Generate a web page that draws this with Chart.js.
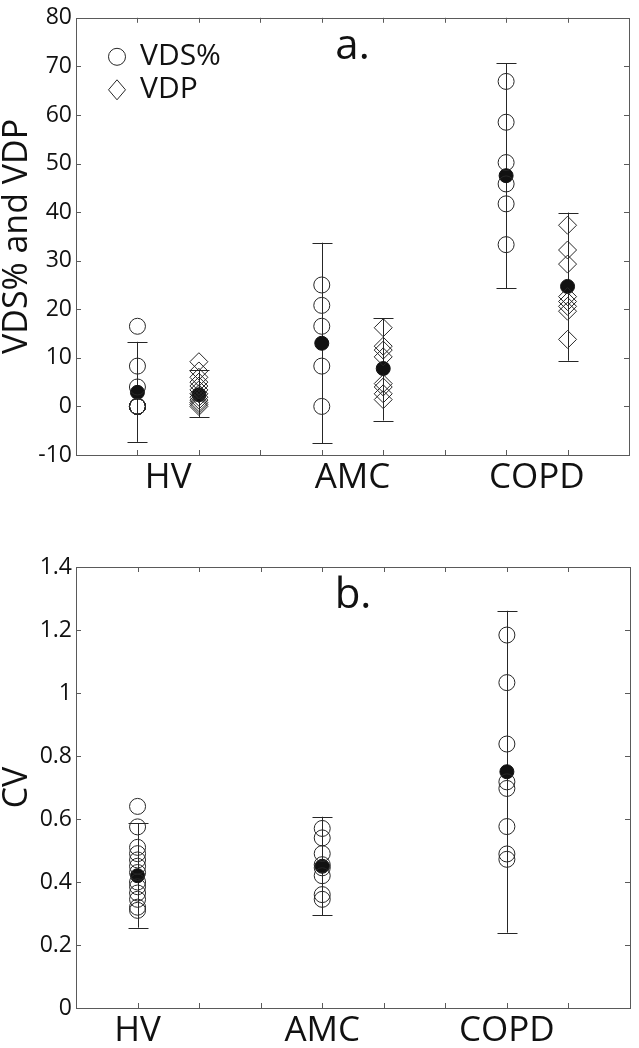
<!DOCTYPE html>
<html>
<head>
<meta charset="utf-8">
<script src="https://cdn.jsdelivr.net/npm/chart.js@4.4.1/dist/chart.umd.min.js"></script>
<style>
  html, body { margin: 0; padding: 0; background: #fff; }
  #wrap { position: relative; width: 639px; height: 1048px; overflow: hidden; }
  canvas { position: absolute; left: 0; }
  #chartA { top: 0; }
  #chartB { top: 540px; }
</style>
</head>
<body>
<div id="wrap">
  <canvas id="chartA" width="639" height="520"></canvas>
  <canvas id="chartB" width="639" height="508"></canvas>
</div>
<script>
// ---- data ----
const groups = ['HV', 'AMC', 'COPD'];

// panel a: individual subjects
const vdsHV = [16.5, 8.3, 4.0, 0, 0, 0, 0, 0, 0, 0];
const vdsAMC = [25.0, 20.8, 16.5, 8.3, 0];
const vdsCOPD = [66.9, 58.5, 50.2, 45.8, 41.7, 33.3];
const vdpHV = [9.2, 7.3, 6.0, 5.0, 4.2, 3.4, 2.6, 1.9, 1.3, 0.8, 0.4, 0];
const vdpAMC = [16.2, 12.4, 11.6, 10.2, 4.7, 4.0, 2.6, 1.4];
const vdpCOPD = [37.3, 32.2, 29.3, 22.6, 21.6, 20.6, 19.6, 13.8];

// panel a: group mean and +/- SD
const vdsMean = [2.9, 13.0, 47.5];
const vdsLow = [-7.3, -7.6, 24.3];
const vdsHigh = [13.3, 33.7, 70.6];
const vdpMean = [2.4, 7.8, 24.7];
const vdpLow = [-2.2, -2.9, 9.4];
const vdpHigh = [7.5, 18.2, 39.9];

// panel b: individual CV
const cvHV = [0.64, 0.575, 0.51, 0.49, 0.47, 0.45, 0.43, 0.40, 0.385, 0.365, 0.345, 0.32, 0.31];
const cvAMC = [0.57, 0.54, 0.49, 0.455, 0.445, 0.42, 0.36, 0.345];
const cvCOPD = [1.184, 1.033, 0.838, 0.718, 0.697, 0.576, 0.489, 0.472];
const cvMean = [0.42, 0.45, 0.75];
const cvLow = [0.255, 0.295, 0.239];
const cvHigh = [0.587, 0.607, 1.261];

// tick labels
const yTicksA = [-10, 0, 10, 20, 30, 40, 50, 60, 70, 80];
const yTicksB = [0, 0.2, 0.4, 0.6, 0.8, 1, 1.2, 1.4];
const yLabelsB = ['0', '0.2', '0.4', '0.6', '0.8', '1', '1.2', '1.4'];

// x placement on a 0..9 axis
const vdsPos = [1, 4, 7];
const vdpPos = [2, 5, 8];
const labelPosA = [1.5, 4.5, 7.5];
const labelPosB = [1, 4, 7];
const xTickVals = [1, 2, 3, 4, 5, 6, 7, 8];

// ---- helpers ----
Chart.defaults.font.family = '"Open Sans", "Liberation Sans", sans-serif';
Chart.defaults.color = '#111';

const INK = '#262626';
const AXIS = '#5a5a5a';

function toPoints(pos, lists) {
  const out = [];
  lists.forEach((vals, i) => vals.forEach(v => out.push({ x: pos[i], y: v })));
  return out;
}
function meanPoints(pos, means) {
  return means.map((v, i) => ({ x: pos[i], y: v }));
}

function hollow(data, style, radius) {
  return {
    data: data,
    pointStyle: style,
    pointRadius: radius,
    pointBorderWidth: 1,
    pointBorderColor: INK,
    pointBackgroundColor: 'rgba(0,0,0,0)',
    showLine: false
  };
}
function filled(data) {
  return {
    data: data,
    pointStyle: 'circle',
    pointRadius: 7,
    pointBorderWidth: 1,
    pointBorderColor: '#111',
    pointBackgroundColor: '#111',
    showLine: false
  };
}

// error bars (mean +/- SD) drawn through the chart's scales
const errorBarPlugin = {
  id: 'errorBars',
  beforeDatasetsDraw(chart, args, opts) {
    const { ctx, scales: { x, y } } = chart;
    ctx.save();
    ctx.strokeStyle = INK;
    ctx.lineWidth = 1;
    opts.bars.forEach(bar => {
      bar.pos.forEach((p, i) => {
        const px = Math.round(x.getPixelForValue(p)) + 0.5;
        const y1 = y.getPixelForValue(bar.lo[i]);
        const y2 = y.getPixelForValue(bar.hi[i]);
        ctx.beginPath();
        ctx.moveTo(px, y1); ctx.lineTo(px, y2);
        ctx.moveTo(px - 10, Math.round(y1) + 0.5); ctx.lineTo(px + 10, Math.round(y1) + 0.5);
        ctx.moveTo(px - 10, Math.round(y2) + 0.5); ctx.lineTo(px + 10, Math.round(y2) + 0.5);
        ctx.stroke();
      });
    });
    ctx.restore();
  }
};

// box around the plot with inward ticks
const framePlugin = {
  id: 'frame',
  afterDraw(chart) {
    const { ctx, chartArea: a, scales: { x, y } } = chart;
    ctx.save();
    ctx.strokeStyle = AXIS;
    ctx.lineWidth = 1;
    ctx.strokeRect(Math.round(a.left) + 0.5, Math.round(a.top) + 0.5,
      Math.round(a.right - a.left), Math.round(a.bottom - a.top));
    ctx.beginPath();
    xTickVals.forEach(v => {
      const px = Math.round(x.getPixelForValue(v)) + 0.5;
      ctx.moveTo(px, a.bottom); ctx.lineTo(px, a.bottom - 5);
      ctx.moveTo(px, a.top); ctx.lineTo(px, a.top + 5);
    });
    y.ticks.forEach(t => {
      const py = Math.round(y.getPixelForValue(t.value)) + 0.5;
      ctx.moveTo(a.left, py); ctx.lineTo(a.left + 5, py);
      ctx.moveTo(a.right, py); ctx.lineTo(a.right - 5, py);
    });
    ctx.stroke();
    ctx.restore();
  }
};

// panel letter and in-plot legend
const panelTextPlugin = {
  id: 'panelText',
  afterDraw(chart, args, opts) {
    const { ctx, chartArea: a } = chart;
    ctx.save();
    ctx.fillStyle = '#111';
    ctx.font = '42px "Open Sans"';
    ctx.textAlign = 'center';
    ctx.textBaseline = 'alphabetic';
    ctx.fillText(opts.letter, (a.left + a.right) / 2, a.top + 41);
    if (opts.legend) {
      const lx = a.left + 41;
      ctx.strokeStyle = INK;
      ctx.lineWidth = 1;
      ctx.beginPath();
      ctx.arc(lx, a.top + 39, 8.5, 0, Math.PI * 2);
      ctx.stroke();
      const dy = a.top + 72;
      ctx.beginPath();
      ctx.moveTo(lx, dy - 10); ctx.lineTo(lx + 8.5, dy);
      ctx.lineTo(lx, dy + 10); ctx.lineTo(lx - 8.5, dy); ctx.closePath();
      ctx.stroke();
      ctx.font = '30px "Open Sans"';
      ctx.textAlign = 'left';
      ctx.textBaseline = 'middle';
      opts.legend.forEach((txt, i) => ctx.fillText(txt, lx + 23, a.top + 39 + i * 33));
    }
    ctx.restore();
  }
};

function baseOptions(cfg) {
  return {
    responsive: false,
    animation: false,
    events: [],
    layout: { padding: { top: cfg.padTop, right: 4, left: 0, bottom: 0 } },
    plugins: {
      legend: { display: false },
      tooltip: { enabled: false },
      errorBars: { bars: cfg.bars },
      panelText: { letter: cfg.letter, legend: cfg.legend }
    },
    scales: {
      x: {
        type: 'linear', min: 0, max: 9,
        grid: { display: false, drawTicks: false },
        border: { display: false },
        afterBuildTicks: s => { s.ticks = cfg.labelPos.map(v => ({ value: v })); },
        ticks: {
          callback: (v, i) => groups[i],
          font: { size: 35 }, color: '#111', padding: 2,
          maxRotation: 0, autoSkip: false
        },
        afterFit: s => { s.height = cfg.xHeight; }
      },
      y: {
        type: 'linear', min: cfg.yMin, max: cfg.yMax,
        grid: { display: false, drawTicks: false },
        border: { display: false },
        afterBuildTicks: s => { s.ticks = cfg.yTicks.map(v => ({ value: v })); },
        ticks: { callback: (v, i) => cfg.yLabels[i], font: { size: 23 }, color: '#111', padding: 4, autoSkip: false },
        title: { display: true, text: cfg.yTitle, font: { size: 34, lineHeight: 1 }, color: '#111', padding: 0 },
        afterFit: s => { s.width = 76; }
      }
    }
  };
}

// ---- panel a ----
new Chart(document.getElementById('chartA'), {
  type: 'scatter',
  data: {
    datasets: [
      hollow(toPoints(vdsPos, [vdsHV, vdsAMC, vdsCOPD]), 'circle', 8),
      hollow(toPoints(vdpPos, [vdpHV, vdpAMC, vdpCOPD]), 'rectRot', 9),
      filled(meanPoints(vdsPos, vdsMean)),
      filled(meanPoints(vdpPos, vdpMean))
    ]
  },
  options: baseOptions({
    padTop: 14, xHeight: 65, yMin: -10, yMax: 80,
    yTicks: yTicksA, yLabels: yTicksA.map(String), yTitle: 'VDS% and VDP',
    labelPos: labelPosA, letter: 'a.', legend: ['VDS%', 'VDP'],
    bars: [
      { pos: vdsPos, lo: vdsLow, hi: vdsHigh },
      { pos: vdpPos, lo: vdpLow, hi: vdpHigh }
    ]
  }),
  plugins: [errorBarPlugin, framePlugin, panelTextPlugin]
});

// ---- panel b ----
new Chart(document.getElementById('chartB'), {
  type: 'scatter',
  data: {
    datasets: [
      hollow(toPoints(vdsPos, [cvHV, cvAMC, cvCOPD]), 'circle', 8),
      filled(meanPoints(vdsPos, cvMean))
    ]
  },
  options: baseOptions({
    padTop: 27, xHeight: 40, yMin: 0, yMax: 1.4,
    yTicks: yTicksB, yLabels: yLabelsB, yTitle: 'CV',
    labelPos: labelPosB, letter: 'b.', legend: null,
    bars: [{ pos: vdsPos, lo: cvLow, hi: cvHigh }]
  }),
  plugins: [errorBarPlugin, framePlugin, panelTextPlugin]
});
</script>
</body>
</html>
